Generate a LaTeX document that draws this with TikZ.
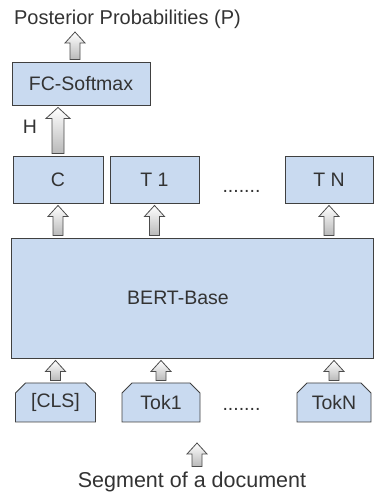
\documentclass[tikz,border=0pt]{standalone}
\usepackage{fontspec}
\setmainfont{Liberation Sans}
\usetikzlibrary{calc,shapes.misc}
\definecolor{boxblue}{HTML}{C9DAF0}
\definecolor{edgegray}{HTML}{404040}
\definecolor{txtgray}{HTML}{333333}

% hollow up-arrow from #2 to #3, half stem width #1
\newcommand{\blockarrow}[3][5]{%
  \draw[blockarr] let \p1=(#2), \p2=(#3) in
    (\x1-#1pt,\y1+2pt) -- (\x1-#1pt,\y2-13pt) -- (\x1-2*#1pt,\y2-13pt) -- (\x1,\y2-2pt)
    -- (\x1+2*#1pt,\y2-13pt) -- (\x1+#1pt,\y2-13pt) -- (\x1+#1pt,\y1+2pt) -- cycle;}

\begin{document}
\begin{tikzpicture}[x=1pt,y=1pt,
  font=\fontsize{19.5}{22}\selectfont, text=txtgray,
  box/.style={draw=edgegray, fill=boxblue, line width=0.9pt, inner sep=0pt},
  tok/.style={box, chamfered rectangle, chamfered rectangle corners={north west,north east},
    chamfered rectangle xsep=5pt, chamfered rectangle ysep=5pt},
  blockarr/.style={draw=gray!60!black, line width=0.8pt, top color=white, bottom color=gray!55}]
  \useasboundingbox (0,0) rectangle (374,496);

  \node[font=\fontsize{20}{22}\selectfont] (post) at (127.5,477) {Posterior Probabilities (P)};
  \coordinate (ptip) at (75,466);
  \node[box, minimum width=138pt, minimum height=43pt] (fc) at (81,412.5) {FC-Softmax};
  \node (h) at (30,369) {H};

  \node[box, minimum width=90pt, minimum height=47pt] (c) at (58,316.5) {C};
  \node[box, minimum width=89pt, minimum height=47pt] (t1) at (154.5,316.5) {T 1};
  \node (dotsa) at (241.5,305) {.......};
  \node[box, minimum width=88pt, minimum height=47pt] (tn) at (329,316.5) {T N};

  \node[box, minimum width=362pt, minimum height=120pt,
    label={[xshift=-14pt]center:BERT-Base}] (bert) at (192,198) {};

  \node[tok, minimum width=80pt, minimum height=39pt] (cls) at (55.5,93.5) {[CLS]};
  \node[tok, minimum width=78pt, minimum height=39pt] (tok1) at (161,93.5) {Tok1};
  \node (dotsb) at (241.5,87) {.......};
  \node[tok, minimum width=74pt, minimum height=39pt] (tokn) at (334,93.5) {TokN};

  \coordinate (segtip) at (197,55);
  \node[font=\fontsize{21.5}{24}\selectfont] (seg) at (192,14) {Segment of a document};

  \blockarrow{fc.north -| ptip}{ptip}
  \blockarrow[6]{c.north}{fc.south -| c.north}
  \blockarrow{bert.north -| c}{c.south}
  \blockarrow{bert.north -| t1}{t1.south}
  \blockarrow{bert.north -| tn}{tn.south}
  \blockarrow{cls.north}{bert.south -| cls}
  \blockarrow{tok1.north}{bert.south -| tok1}
  \blockarrow{tokn.north}{bert.south -| tokn}
  \blockarrow{seg.north -| segtip}{segtip}
\end{tikzpicture}
\end{document}
